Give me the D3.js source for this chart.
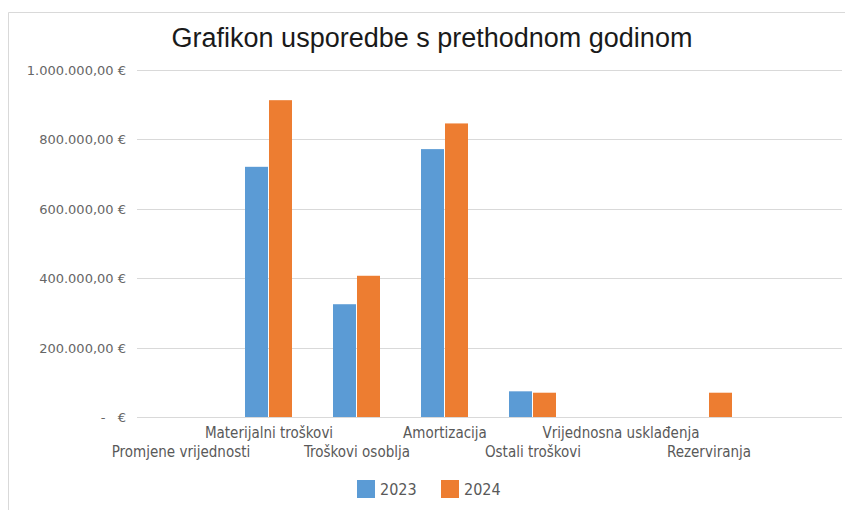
<!DOCTYPE html>
<html>
<head>
<meta charset="utf-8">
<script src="https://cdn.jsdelivr.net/npm/d3@7"></script>
<style>
  body { margin: 0; background: #fff; }
  svg { display: block; }
</style>
</head>
<body>
<div class="chart"></div>
<script>
// chart data
var categories = ["Promjene vrijednosti", "Materijalni troškovi", "Troškovi osoblja",
    "Amortizacija", "Ostali troškovi", "Vrijednosna usklađenja", "Rezerviranja"];
var series = ["2023", "2024"];
var values2023 = [0, 721000, 325000, 772000, 74000, 0, 0];
var values2024 = [0, 913000, 407000, 846000, 70000, 0, 70000];
var yTicks = [0, 200000, 400000, 600000, 800000, 1000000];

var colors = {"2023": "#5b9bd5", "2024": "#ed7d31"};

var W = 845, H = 510;
var plot = {left: 137, right: 842, top: 70, bottom: 417};
var labelFont = "'DejaVu Sans Condensed', 'DejaVu Sans', sans-serif";

var svg = d3.select(".chart").append("svg")
    .attr("width", W)
    .attr("height", H);

// outer frame
svg.append("path")
    .attr("d", "M8.5," + H + "V12.5H" + W)
    .attr("fill", "none")
    .attr("stroke", "#d9d9d9");

// title
svg.append("text")
    .text("Grafikon usporedbe s prethodnom godinom")
    .attr("x", 432)
    .attr("y", 47)
    .attr("text-anchor", "middle")
    .style("font-family", "'Liberation Sans', Arial, sans-serif")
    .style("font-size", "27px")
    .style("fill", "#1a1a1a");

// scales
var x = d3.scaleBand().domain(categories).range([plot.left, plot.left + 88 * categories.length]);
var x1 = d3.scaleBand().domain(series).range([0, 48]);
var y = d3.scaleLinear().domain([0, 1000000]).range([plot.bottom, plot.top]);

// number format like 1.000.000,00 €
var hr = d3.formatLocale({decimal: ",", thousands: ".", grouping: [3], currency: ["", " €"]});
var fmt = hr.format(",.2f");
function yLabel(v) { return v === 0 ? "-   €" : fmt(v) + " €"; }

// gridlines
svg.append("g")
  .selectAll("line")
  .data(yTicks)
  .enter().append("line")
    .attr("x1", plot.left)
    .attr("x2", plot.right)
    .attr("y1", function(d) { return Math.round(y(d)) + 0.5; })
    .attr("y2", function(d) { return Math.round(y(d)) + 0.5; })
    .attr("stroke", "#d9d9d9")
    .attr("stroke-width", 1);

// y labels
svg.append("g")
  .selectAll("text")
  .data(yTicks)
  .enter().append("text")
    .text(yLabel)
    .attr("x", 126)
    .attr("y", function(d) { return y(d) + 5; })
    .attr("text-anchor", "end")
    .style("white-space", "pre")
    .style("font-family", "'DejaVu Sans', sans-serif")
    .style("font-size", "13px")
    .style("fill", "#666");

// bars
var rows = categories.map(function(c, i) {
    return {cat: c, vals: [{s: "2023", v: values2023[i]}, {s: "2024", v: values2024[i]}]};
});

var groups = svg.append("g")
  .selectAll("g")
  .data(rows)
  .enter().append("g")
    .attr("transform", function(d) {
        return "translate(" + (x(d.cat) + x.bandwidth() / 2 - 24) + ",0)";
    });

groups.selectAll("rect")
    .data(function(d) { return d.vals.filter(function(e) { return e.v > 0; }); })
    .enter().append("rect")
    .attr("x", function(d) { return x1(d.s); })
    .attr("width", x1.bandwidth() - 1)
    .attr("y", function(d) { return y(d.v); })
    .attr("height", function(d) { return y(0) - y(d.v); })
    .attr("fill", function(d) { return colors[d.s]; });

// category labels, staggered on two rows
svg.append("g")
  .selectAll("text")
  .data(categories)
  .enter().append("text")
    .text(function(d) { return d; })
    .attr("x", function(d) { return x(d) + x.bandwidth() / 2; })
    .attr("y", function(d, i) { return i % 2 ? 438 : 457; })
    .attr("text-anchor", "middle")
    .style("font-family", labelFont)
    .style("font-size", "15px")
    .style("fill", "#595959");

// legend
var legend = svg.append("g")
  .selectAll("g")
  .data(series)
  .enter().append("g")
    .attr("transform", function(d, i) { return "translate(" + (357 + i * 84) + ",480)"; });

legend.append("rect")
    .attr("width", 18)
    .attr("height", 18)
    .attr("fill", function(d) { return colors[d]; });

legend.append("text")
    .text(function(d) { return d; })
    .attr("x", 23)
    .attr("y", 15)
    .style("font-family", labelFont)
    .style("font-size", "16px")
    .style("fill", "#595959");
</script>
</body>
</html>
